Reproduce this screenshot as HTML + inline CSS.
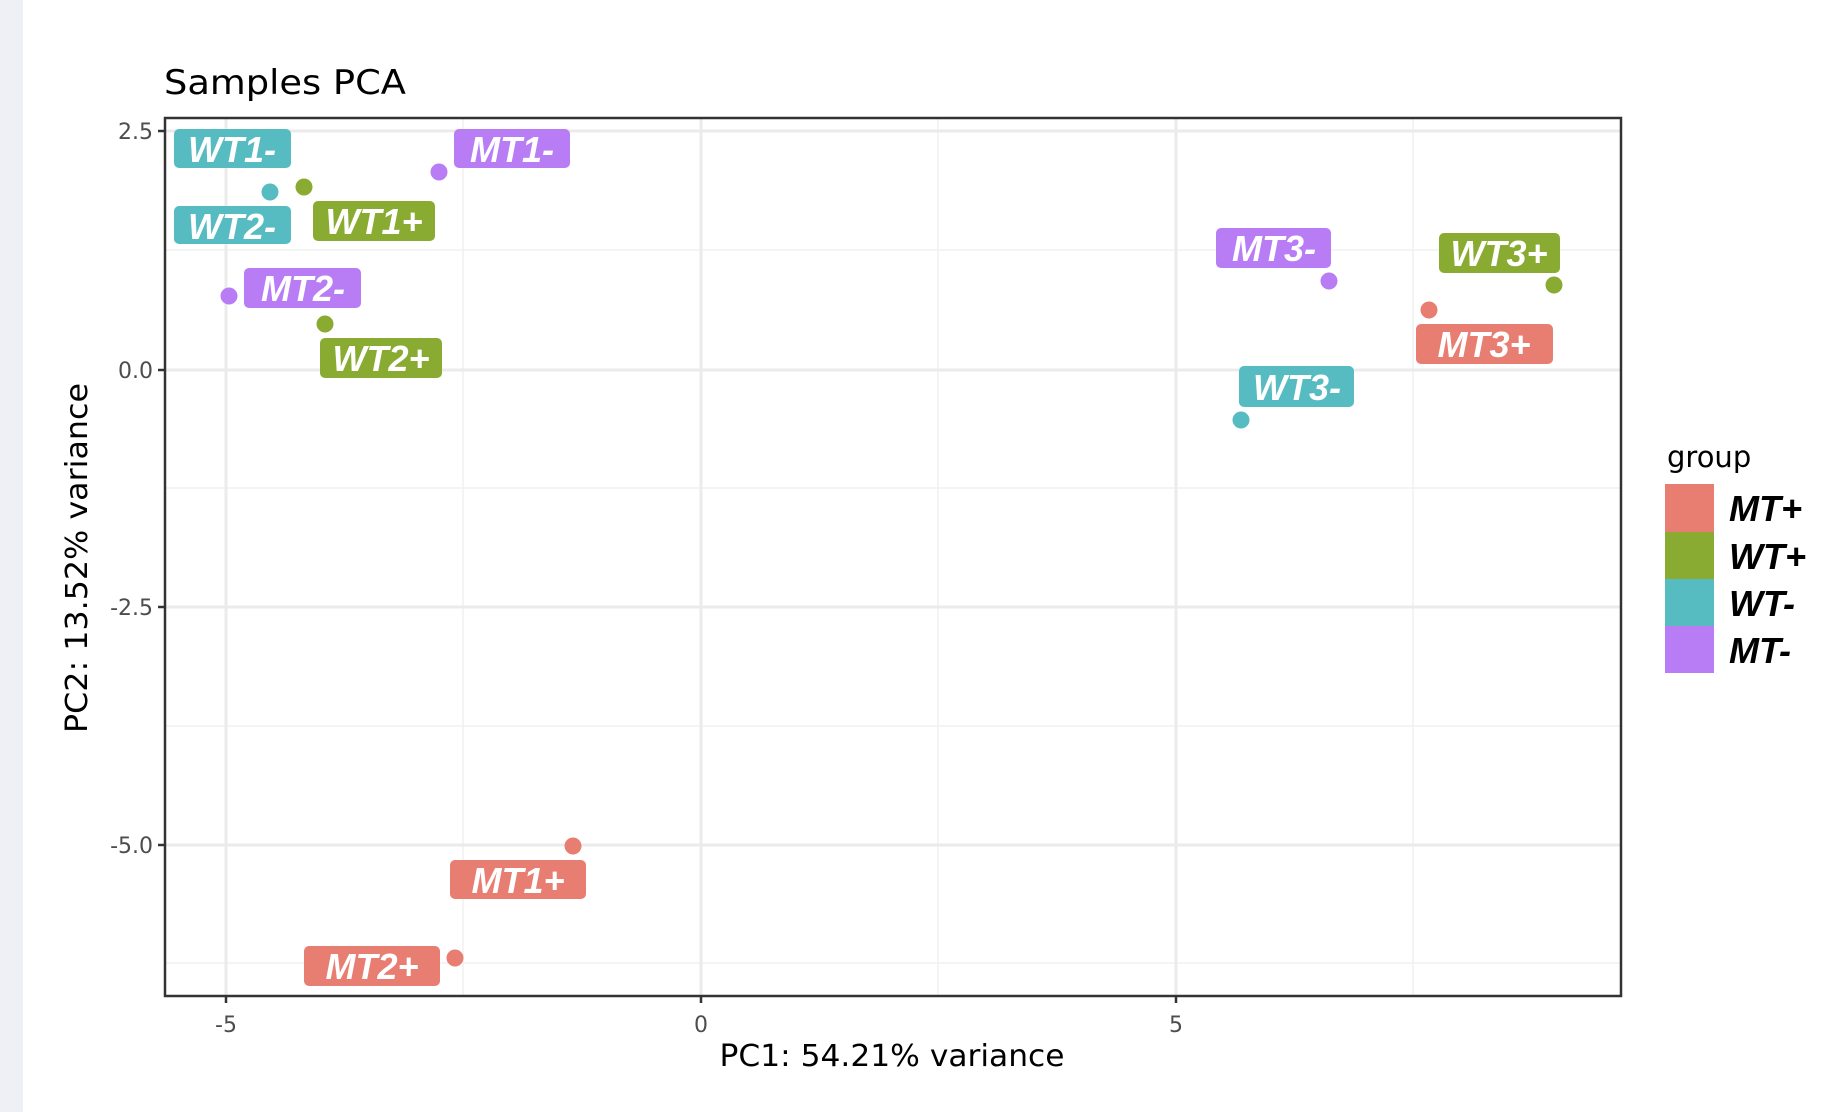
<!DOCTYPE html>
<html><head><meta charset="utf-8"><style>
html,body{margin:0;padding:0;background:#fff;}
svg{display:block;}
.lab{font-family:"Liberation Sans",sans-serif;font-weight:bold;font-style:italic;font-size:36px;fill:#fff;}
.tk{font-family:"DejaVu Sans","Liberation Sans",sans-serif;font-size:22px;fill:#4d4d4d;}
</style></head><body>
<svg width="1834" height="1112" viewBox="0 0 1834 1112" xmlns="http://www.w3.org/2000/svg">
<rect x="0" y="0" width="1834" height="1112" fill="#fff"/>
<rect x="0" y="0" width="23" height="1112" fill="#eef0f5"/>
<text x="164" y="94" font-family="DejaVu Sans,Liberation Sans,sans-serif" font-size="34" fill="#000" textLength="242" lengthAdjust="spacingAndGlyphs">Samples PCA</text>
<g stroke="#f0f0f0" stroke-width="1.5">
<line x1="463" y1="118" x2="463" y2="996"/><line x1="938" y1="118" x2="938" y2="996"/><line x1="1413" y1="118" x2="1413" y2="996"/>
<line x1="165" y1="250" x2="1621" y2="250"/><line x1="165" y1="488" x2="1621" y2="488"/><line x1="165" y1="726" x2="1621" y2="726"/><line x1="165" y1="963" x2="1621" y2="963"/>
</g>
<g stroke="#ebebeb" stroke-width="3">
<line x1="226" y1="118" x2="226" y2="996"/><line x1="701" y1="118" x2="701" y2="996"/><line x1="1176" y1="118" x2="1176" y2="996"/>
<line x1="165" y1="131" x2="1621" y2="131"/><line x1="165" y1="370" x2="1621" y2="370"/><line x1="165" y1="607" x2="1621" y2="607"/><line x1="165" y1="845" x2="1621" y2="845"/>
</g>
<circle cx="270" cy="192" r="8.5" fill="#56bcc2"/>
<circle cx="304" cy="187" r="8.5" fill="#8aab32"/>
<circle cx="439" cy="172" r="8.5" fill="#b87cf5"/>
<circle cx="229" cy="296" r="8.5" fill="#b87cf5"/>
<circle cx="325" cy="324" r="8.5" fill="#8aab32"/>
<circle cx="1329" cy="281" r="8.5" fill="#b87cf5"/>
<circle cx="1554" cy="285" r="8.5" fill="#8aab32"/>
<circle cx="1429" cy="310" r="8.5" fill="#e87d72"/>
<circle cx="1241" cy="420" r="8.5" fill="#56bcc2"/>
<circle cx="573" cy="846" r="8.5" fill="#e87d72"/>
<circle cx="455" cy="958" r="8.5" fill="#e87d72"/>
<g>
<rect x="174" y="129" width="117" height="39" rx="5" fill="#56bcc2"/><text class="lab" x="232" y="162" text-anchor="middle">WT1-</text>
<rect x="454" y="129" width="116" height="39" rx="5" fill="#b87cf5"/><text class="lab" x="512" y="162" text-anchor="middle">MT1-</text>
<rect x="174" y="206" width="117" height="38" rx="5" fill="#56bcc2"/><text class="lab" x="232" y="239" text-anchor="middle">WT2-</text>
<rect x="313" y="201" width="122" height="40" rx="5" fill="#8aab32"/><text class="lab" x="374" y="234" text-anchor="middle">WT1+</text>
<rect x="244" y="268" width="117" height="40" rx="5" fill="#b87cf5"/><text class="lab" x="303" y="301" text-anchor="middle">MT2-</text>
<rect x="320" y="338" width="122" height="40" rx="5" fill="#8aab32"/><text class="lab" x="381" y="371" text-anchor="middle">WT2+</text>
<rect x="1216" y="228" width="115" height="40" rx="5" fill="#b87cf5"/><text class="lab" x="1274" y="261" text-anchor="middle">MT3-</text>
<rect x="1439" y="233" width="121" height="40" rx="5" fill="#8aab32"/><text class="lab" x="1499" y="266" text-anchor="middle">WT3+</text>
<rect x="1416" y="324" width="137" height="40" rx="5" fill="#e87d72"/><text class="lab" x="1484" y="357" text-anchor="middle">MT3+</text>
<rect x="1239" y="366" width="115" height="41" rx="5" fill="#56bcc2"/><text class="lab" x="1297" y="400" text-anchor="middle">WT3-</text>
<rect x="450" y="860" width="136" height="39" rx="5" fill="#e87d72"/><text class="lab" x="518" y="893" text-anchor="middle">MT1+</text>
<rect x="304" y="946" width="136" height="40" rx="5" fill="#e87d72"/><text class="lab" x="372" y="979" text-anchor="middle">MT2+</text>
</g>
<rect x="165" y="118" width="1456" height="878" fill="none" stroke="#333" stroke-width="2.5"/>
<g stroke="#333" stroke-width="2.5">
<line x1="226" y1="996" x2="226" y2="1003"/><line x1="701" y1="996" x2="701" y2="1003"/><line x1="1176" y1="996" x2="1176" y2="1003"/>
<line x1="158" y1="131" x2="165" y2="131"/><line x1="158" y1="370" x2="165" y2="370"/><line x1="158" y1="607" x2="165" y2="607"/><line x1="158" y1="845" x2="165" y2="845"/>
</g>
<text class="tk" x="226" y="1032" text-anchor="middle">-5</text>
<text class="tk" x="701" y="1032" text-anchor="middle">0</text>
<text class="tk" x="1176" y="1032" text-anchor="middle">5</text>
<text class="tk" x="153" y="139" text-anchor="end">2.5</text>
<text class="tk" x="153" y="378" text-anchor="end">0.0</text>
<text class="tk" x="153" y="615" text-anchor="end">-2.5</text>
<text class="tk" x="153" y="853" text-anchor="end">-5.0</text>
<text x="892" y="1066" text-anchor="middle" font-family="DejaVu Sans,Liberation Sans,sans-serif" font-size="30" fill="#000" textLength="345" lengthAdjust="spacingAndGlyphs">PC1: 54.21% variance</text>
<text transform="translate(87,558) rotate(-90)" text-anchor="middle" font-family="DejaVu Sans,Liberation Sans,sans-serif" font-size="30" fill="#000" textLength="350" lengthAdjust="spacingAndGlyphs">PC2: 13.52% variance</text>
<text x="1667" y="467" font-family="DejaVu Sans,Liberation Sans,sans-serif" font-size="29" fill="#000">group</text>
<rect x="1665" y="484" width="49" height="48" fill="#e87d72"/>
<rect x="1665" y="532" width="49" height="47" fill="#8aab32"/>
<rect x="1665" y="579" width="49" height="47" fill="#56bcc2"/>
<rect x="1665" y="626" width="49" height="47" fill="#b87cf5"/>
<g font-family="Liberation Sans,sans-serif" font-weight="bold" font-style="italic" font-size="36" fill="#000">
<text x="1729" y="521">MT+</text>
<text x="1729" y="569">WT+</text>
<text x="1729" y="616">WT-</text>
<text x="1729" y="663">MT-</text>
</g>
</svg>
</body></html>
